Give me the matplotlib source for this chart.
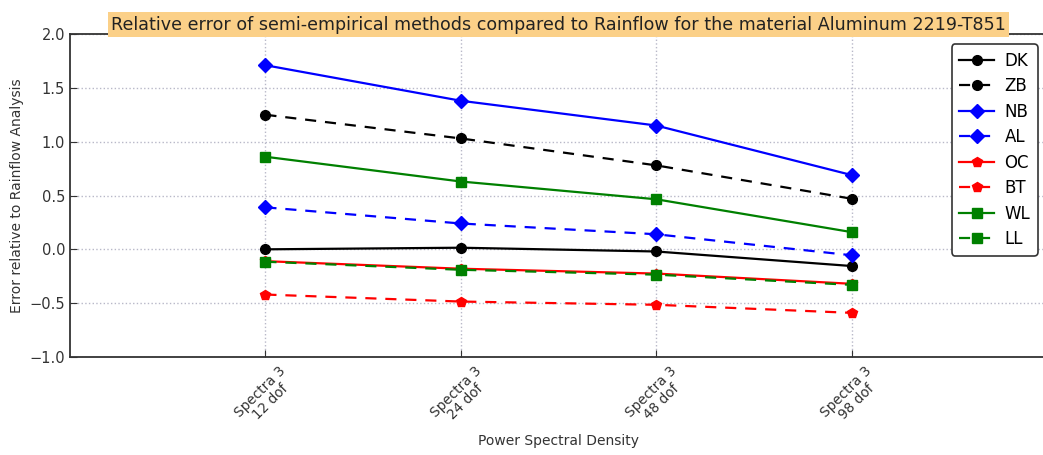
import matplotlib
matplotlib.use("Agg")
import matplotlib.pyplot as plt

# Data
spectra = ["Spectra 3\n12 dof", "Spectra 3\n24 dof", "Spectra 3\n48 dof", "Spectra 3\n98 dof"]
dk = [0.00, 0.015, -0.02, -0.155]
zb = [1.25, 1.03, 0.78, 0.47]
nb = [1.71, 1.38, 1.15, 0.69]
al = [0.39, 0.24, 0.14, -0.055]
oc = [-0.11, -0.18, -0.225, -0.32]
bt = [-0.42, -0.485, -0.515, -0.59]
wl = [0.86, 0.63, 0.465, 0.16]
ll = [-0.115, -0.19, -0.235, -0.33]

series = [
    ("DK", dk, "k", "o", "-"),
    ("ZB", zb, "k", "o", "--"),
    ("NB", nb, "b", "D", "-"),
    ("AL", al, "b", "D", "--"),
    ("OC", oc, "r", "p", "-"),
    ("BT", bt, "r", "p", "--"),
    ("WL", wl, "g", "s", "-"),
    ("LL", ll, "g", "s", "--"),
]

W, H = 1043, 455
fig = plt.figure(figsize=(W / 100, H / 100), dpi=100)
ax = fig.add_axes([70 / W, (H - 357) / H, 977 / W, (357 - 34) / H])

x = list(range(len(spectra)))
for name, vals, color, marker, ls in series:
    ax.plot(x, vals, color=color, marker=marker, linestyle=ls, linewidth=1.6,
            markersize=7, markeredgecolor=color, label=name,
            dashes=(5, 4) if ls == "--" else (None, None))

ax.set_xlim(-1, 4)
ax.set_ylim(-1.0, 2.0)
ax.set_yticks([-1.0, -0.5, 0.0, 0.5, 1.0, 1.5, 2.0])
ax.set_yticklabels(["\u22121.0", "\u22120.5", "0.0", "0.5", "1.0", "1.5", "2.0"])
ax.set_xticks(x)
ax.set_xticklabels(spectra, rotation=45, ha="center", multialignment="center",
                   fontsize=9.8, color="#333333", linespacing=1.0)
ax.tick_params(axis="y", labelsize=10.5, colors="#333333")
ax.tick_params(direction="in", length=5, color="#333333")
ax.tick_params(axis="x", pad=5)
for s in ax.spines.values():
    s.set_linewidth(1.3)
    s.set_color("#333333")

ax.grid(True, linestyle=":", color="#b8b8c8", linewidth=1)

ax.set_xlabel("Power Spectral Density", fontsize=10, color="#333333", labelpad=3)
ax.set_ylabel("Error relative to Rainflow Analysis", fontsize=10, color="#333333")
ax.set_title("Relative error of semi-empirical methods compared to Rainflow for the material Aluminum 2219-T851",
             fontsize=12.6, color="#222222", pad=3,
             bbox=dict(facecolor="#fbd088", edgecolor="none", pad=2.5))

leg = ax.legend(loc="upper right", bbox_to_anchor=(1046 / W, 1 - 36 / H),
                bbox_transform=fig.transFigure, fontsize=12, labelspacing=0.45,
                handlelength=2.1, handletextpad=0.6, borderpad=0.45,
                fancybox=True, framealpha=1)
leg.get_frame().set_edgecolor("#333333")
leg.get_frame().set_linewidth(1.2)

fig.savefig("out.png", dpi=100)
